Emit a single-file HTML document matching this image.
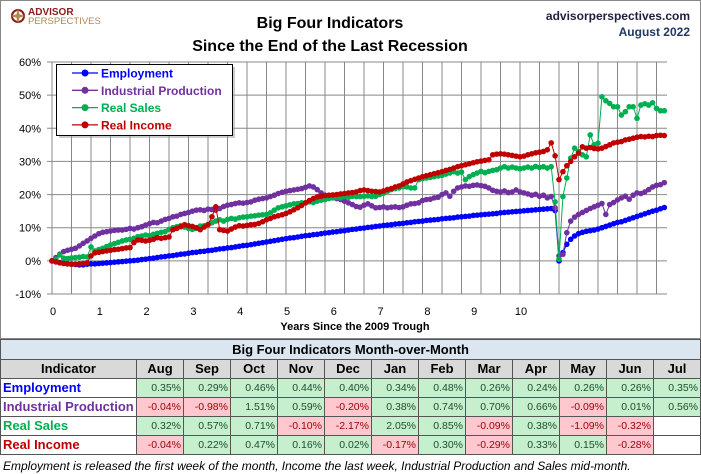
<!DOCTYPE html>
<html><head><meta charset="utf-8">
<style>
body{margin:0;background:#fff;font-family:"Liberation Sans",sans-serif;}
#wrap{position:relative;width:701px;height:474px;overflow:hidden;}
svg text{font-family:"Liberation Sans",sans-serif;}
table{position:absolute;left:0;top:339px;border-collapse:collapse;width:701px;table-layout:fixed;font-size:10.5px;}
tr{height:19px}
td,th{border:1px solid #555;padding:0;height:18px;line-height:16px;text-align:right;padding-right:2px;overflow:hidden;white-space:nowrap}
th{font-size:13px;text-align:center;padding:0}
.g{background:#c6efce;color:#1e4d2b}.r{background:#ffc7ce;color:#9c0006}
.lab{text-align:left;font-weight:bold;font-size:13px;padding-left:2px}
</style></head><body>
<div id="wrap">
<svg id="chart" width="701" height="339" style="position:absolute;left:0;top:0"></svg>
<table>
<colgroup><col style="width:136px"><col span="12" style="width:47px"></colgroup>
<tr><th colspan="13" style="background:#dce6f1;height:19px">Big Four Indicators Month-over-Month</th></tr>
<tr style="background:#d9d9d9"><th>Indicator</th><th>Aug</th><th>Sep</th><th>Oct</th><th>Nov</th><th>Dec</th><th>Jan</th><th>Feb</th><th>Mar</th><th>Apr</th><th>May</th><th>Jun</th><th>Jul</th></tr>
<tr><td class="lab" style="color:#0000ff">Employment</td><td class="g">0.35%</td><td class="g">0.29%</td><td class="g">0.46%</td><td class="g">0.44%</td><td class="g">0.40%</td><td class="g">0.34%</td><td class="g">0.48%</td><td class="g">0.26%</td><td class="g">0.24%</td><td class="g">0.26%</td><td class="g">0.26%</td><td class="g">0.35%</td></tr>
<tr><td class="lab" style="color:#7030a0">Industrial Production</td><td class="r">-0.04%</td><td class="r">-0.98%</td><td class="g">1.51%</td><td class="g">0.59%</td><td class="r">-0.20%</td><td class="g">0.38%</td><td class="g">0.74%</td><td class="g">0.70%</td><td class="g">0.66%</td><td class="r">-0.09%</td><td class="g">0.01%</td><td class="g">0.56%</td></tr>
<tr><td class="lab" style="color:#00b050">Real Sales</td><td class="g">0.32%</td><td class="g">0.57%</td><td class="g">0.71%</td><td class="r">-0.10%</td><td class="r">-2.17%</td><td class="g">2.05%</td><td class="g">0.85%</td><td class="r">-0.09%</td><td class="g">0.38%</td><td class="r">-1.09%</td><td class="r">-0.32%</td><td></td></tr>
<tr><td class="lab" style="color:#c00000">Real Income</td><td class="r">-0.04%</td><td class="g">0.22%</td><td class="g">0.47%</td><td class="g">0.16%</td><td class="g">0.02%</td><td class="r">-0.17%</td><td class="g">0.30%</td><td class="r">-0.29%</td><td class="g">0.33%</td><td class="g">0.15%</td><td class="r">-0.28%</td><td></td></tr>
</table>
<div style="position:absolute;left:3px;top:459px;font-size:12px;font-style:italic;white-space:nowrap">Employment is released the first week of the month, Income the last week, Industrial Production and Sales mid-month.</div>
</div>
<script>
const yTicks=[-10,0,10,20,30,40,50,60];
const xTickYears=[0,1,2,3,4,5,6,7,8,9,10];
const seriesNames=["Employment","Industrial Production","Real Sales","Real Income"];
const employment=[0,-0.3,-0.5,-0.7,-0.9,-1.0,-1.1,-1.2,-1.2,-1.0,-0.9,-0.9,
-0.8,-0.7,-0.6,-0.5,-0.4,-0.3,-0.2,-0.1,0,0.1,0.2,0.4,
0.5,0.7,0.8,1.0,1.2,1.3,1.5,1.6,1.8,2.0,2.1,2.3,
2.5,2.6,2.8,2.9,3.1,3.2,3.4,3.6,3.7,3.9,4.0,4.2,
4.4,4.6,4.7,4.9,5.1,5.3,5.5,5.7,5.9,6.1,6.3,6.5,
6.7,6.9,7.0,7.2,7.4,7.6,7.7,7.9,8.0,8.2,8.4,8.5,
8.7,8.8,9.0,9.1,9.3,9.5,9.6,9.8,9.9,10.1,10.2,10.4,
10.5,10.7,10.8,10.9,11.1,11.2,11.3,11.5,11.6,11.8,11.9,12.0,
12.2,12.3,12.4,12.5,12.7,12.8,12.9,13.0,13.2,13.3,13.4,13.5,
13.7,13.8,13.9,14.0,14.1,14.2,14.3,14.5,14.6,14.7,14.8,14.9,
15.0,15.1,15.2,15.3,15.4,15.5,15.6,15.7,15.8,15.2,0,2.5,
5.0,6.5,7.5,8.2,8.6,8.9,9.1,9.3,9.6,10.0,10.4,10.8,
11.2,11.6,11.8,12.2,12.6,13.0,13.4,13.8,14.2,14.6,15.0,15.3,
15.7,16.1];
const industrial=[0,1.0,2.0,2.8,3.2,3.5,3.8,4.5,5.3,6.0,6.8,7.5,
8.2,8.6,8.8,9.0,9.2,9.3,9.3,9.5,9.8,9.6,10.0,10.3,
10.8,11.2,11.6,11.5,12.0,12.5,12.8,13.3,13.5,14.0,14.3,14.6,
15.0,15.3,15.4,15.2,15.6,15.5,15.3,15.8,16.4,16.8,17.0,17.3,
17.5,17.4,17.6,17.8,18.3,18.6,18.8,19.0,19.4,19.8,20.3,20.7,
21.0,21.2,21.4,21.6,21.8,22.2,22.6,22.3,21.5,20.5,19.8,19.5,
19.0,18.8,18.5,18.0,17.5,17.0,16.4,16.2,16.8,17.2,16.6,16.0,
16.1,16.3,16.0,16.2,16.3,16.1,16.3,16.8,17.2,17.3,17.5,18.2,
18.5,18.6,19.0,19.2,20.0,20.5,19.5,21.0,22.0,22.3,22.6,22.5,
22.8,22.9,22.7,22.5,22.0,21.3,21.0,20.8,21.1,20.6,20.8,21.4,
20.8,20.5,20.2,19.8,20.1,19.5,19.8,19.0,19.4,16.0,1.5,2.0,
8.5,12.0,13.2,14.0,14.6,15.2,15.8,16.3,16.8,17.3,14.0,17.0,
17.6,18.4,19.0,19.5,18.6,19.8,20.5,20.3,20.8,21.5,22.3,22.8,
23.0,23.6];
const realSales=[0,0.5,1.8,0.8,0.7,0.9,1.0,1.1,1.3,1.2,4.2,3.0,
3.4,3.8,4.3,4.8,5.2,5.6,6.0,6.3,6.5,6.8,7.3,7.5,
7.8,7.6,8.0,8.3,8.6,8.8,9.5,10.0,10.3,10.6,10.2,9.8,
9.5,9.8,10.5,10.6,11.0,11.5,12.0,12.4,12.0,12.5,12.8,12.6,
13.0,13.2,13.3,13.5,13.6,13.8,13.9,14.0,14.5,15.3,16.0,16.3,
16.6,16.9,17.2,17.3,17.5,17.5,17.8,17.6,18.0,18.3,18.5,18.8,
19.0,19.2,19.0,19.4,19.2,19.5,19.4,19.4,19.5,19.6,19.4,19.5,
20.0,20.4,21.0,21.5,21.8,22.0,22.4,22.3,22.0,22.0,24.5,24.8,
25.0,25.2,25.4,25.6,25.8,26.2,26.5,26.9,26.5,26.8,24.5,25.4,
26.0,26.5,27.0,26.6,27.0,27.3,27.5,28.0,28.4,28.0,28.3,28.0,
27.8,28.0,28.3,28.0,28.5,28.2,28.4,28.0,28.4,17.8,0.5,19.4,
25.0,31.0,34.0,33.0,32.0,31.4,38.0,35.0,35.5,49.5,48.3,47.5,
46.5,46.5,44.0,45.0,46.5,46.5,43.0,47.0,47.4,47.0,47.7,46.0,
45.3,45.3];
const realIncome=[0,-0.3,-0.6,-0.8,-0.9,-1.0,-1.0,-0.9,-0.8,-0.6,1.5,2.4,
2.6,2.8,3.0,3.2,3.4,3.5,3.7,3.9,4.0,5.5,6.3,6.2,
6.0,6.2,6.5,7.0,6.8,7.0,7.2,9.4,9.8,10.3,10.9,10.6,
10.4,10.0,9.4,10.2,10.9,13.3,16.3,9.4,9.2,9.0,9.6,10.2,
10.6,10.5,10.7,10.9,11.0,11.3,11.8,12.4,12.8,13.3,13.6,13.9,
14.3,14.8,15.4,16.0,16.7,17.5,18.2,18.8,19.3,19.5,19.7,19.8,
19.9,20.0,20.2,20.3,20.5,20.6,20.8,21.2,21.4,21.2,21.0,20.9,
20.8,21.1,21.5,21.8,22.3,22.6,23.2,23.8,24.2,24.6,25.0,25.4,
25.7,26.0,26.3,26.6,26.9,27.3,27.6,28.0,28.4,28.7,29.0,29.3,
29.6,29.9,30.1,30.3,30.5,32.0,32.2,32.3,32.2,32.0,31.8,31.6,
31.4,31.6,32.0,32.3,32.6,32.8,33.0,33.5,35.6,31.7,24.5,26.9,
28.7,30.0,31.4,32.5,34.4,34.0,34.2,33.9,33.8,34.0,34.5,35.0,
35.6,35.8,36.0,36.5,36.7,37.0,37.3,37.5,37.4,37.6,37.5,37.8,
37.9,37.8];

const NS='http://www.w3.org/2000/svg';
const svg=document.getElementById('chart');
const L=52,R=667,T=62,B=294;
const xOf=m=>L+m*3.9;
const yOf=v=>T+(60-v)/70*(B-T);
function mk(tag,attrs,parent){const e=document.createElementNS(NS,tag);for(const k in attrs)e.setAttribute(k,attrs[k]);(parent||svg).appendChild(e);return e;}
const fr=mk('rect',{x:0.5,y:0.5,width:700,height:338,fill:'none',stroke:'#888'});


const lg=mk('g',{});


mk('circle',{cx:18,cy:16,r:6,fill:'none',stroke:'#8b1a1a','stroke-width':2},lg);
mk('path',{d:'M18 8 L20 16 L18 24 L16 16 Z M10 16 L18 14 L26 16 L18 18 Z',fill:'#b08b50'},lg);
let t=mk('text',{x:28,y:15,'font-size':10,'font-weight':'bold',fill:'#8b1a1a'},lg);t.textContent='ADVISOR';
t=mk('text',{x:28,y:24,'font-size':9.5,fill:'#b08b50'},lg);t.textContent='PERSPECTIVES';
t=mk('text',{x:330,y:28,'font-size':16,'font-weight':'bold','text-anchor':'middle'});t.textContent='Big Four Indicators';

t=mk('text',{x:330,y:51,'font-size':16,'font-weight':'bold','text-anchor':'middle'});t.textContent='Since the End of the Last Recession';

t=mk('text',{x:690,y:20,'font-size':12,'font-weight':'bold','text-anchor':'end',fill:'#1f1f3f'});t.textContent='advisorperspectives.com';

t=mk('text',{x:690,y:36,'font-size':12,'font-weight':'bold','text-anchor':'end',fill:'#1f3864'});t.textContent='August 2022';

for(let m=0;m<=158;m+=5){const ln=mk('line',{x1:xOf(m),x2:xOf(m),y1:T,y2:B,stroke:'#888','stroke-width':1});
}
yTicks.forEach(v=>{const ln=mk('line',{x1:L-5,x2:R,y1:yOf(v),y2:yOf(v),stroke:'#888','stroke-width':1});

const tx=mk('text',{x:41,y:yOf(v)+4,'font-size':11,'text-anchor':'end'});tx.textContent=v+'%';
});
xTickYears.forEach(yr=>{const tx=mk('text',{x:xOf(yr*12)+1,y:315,'font-size':11,'text-anchor':'middle'});tx.textContent=yr;
});
t=mk('text',{x:355,y:330,'font-size':11,'font-weight':'bold','text-anchor':'middle'});t.textContent='Years Since the 2009 Trough';

const colors=['#0000ff','#7030a0','#00b050','#c00000'];
[employment,industrial,realSales,realIncome].forEach((arr,i)=>{
 const g=mk('g',{});
 
 
 mk('polyline',{points:arr.map((v,m)=>xOf(m)+','+yOf(v)).join(' '),fill:'none',stroke:colors[i],'stroke-width':1},g);
 arr.forEach((v,m)=>{const c=mk('circle',{cx:xOf(m),cy:yOf(v),r:2.8,fill:colors[i]},g);
 });
});
const lgd=mk('g',{});


mk('rect',{x:59,y:67,width:176,height:71,fill:'#999',opacity:0.5},lgd);
mk('rect',{x:56.5,y:64.5,width:176,height:71,fill:'#fff',stroke:'#000'},lgd);
seriesNames.forEach((n,i)=>{const y=73+i*17.3;
 const e=mk('g',{},lgd);
 
 
 mk('line',{x1:72,x2:98,y1:y,y2:y,stroke:colors[i],'stroke-width':1.3},e);
 mk('circle',{cx:85,cy:y,r:3.5,fill:colors[i]},e);
 const tx=mk('text',{x:101,y:y+4.5,'font-size':12,'font-weight':'bold',fill:colors[i]},e);tx.textContent=n;});
</script>
</body></html>
